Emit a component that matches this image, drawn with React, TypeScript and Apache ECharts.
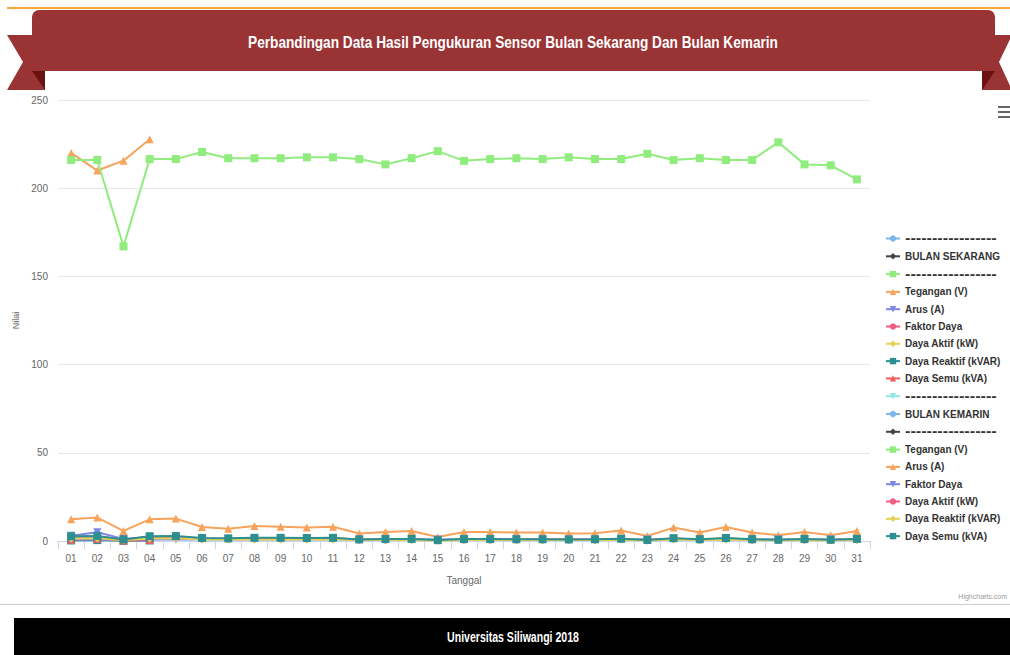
import React, { useEffect, useRef } from "react";
import * as echarts from "echarts";

const days = ["01","02","03","04","05","06","07","08","09","10","11","12","13","14","15","16","17","18","19","20","21","22","23","24","25","26","27","28","29","30","31"];

const sekarangTegangan = [220, 210, 215.6, 227.7];
const sekarangArus = [3.0, 5.0, 1.2, 2.2];
const sekarangFaktorDaya = [0.9, 0.9, 0.9, 0.9];
const sekarangDayaAktif = [0.6, 1.0, 0.2, 0.5];
const sekarangDayaReaktif = [0.3, 0.5, 0.1, 0.3];
const sekarangDayaSemu = [0.7, 1.1, 0.3, 0.5];

const kemarinTegangan = [216, 216, 167, 216.5, 216.5, 220.5, 217, 217, 217, 217.5, 217.5, 216.5, 213.5, 217, 221, 215.5, 216.5, 217, 216.5, 217.5, 216.5, 216.5, 219.5, 216, 217, 216, 216, 226, 213.5, 213, 205];
const kemarinArus = [12.3, 13.3, 5.7, 12.3, 12.7, 7.9, 7.0, 8.5, 8.1, 7.6, 8.1, 4.2, 5.1, 5.7, 2.3, 5.1, 5.1, 4.8, 4.8, 4.2, 4.4, 6.0, 2.8, 7.6, 4.8, 7.9, 4.8, 3.3, 5.1, 3.3, 5.7];
const kemarinFaktorDaya = [0.85, 0.86, 0.84, 0.85, 0.85, 0.86, 0.85, 0.85, 0.86, 0.85, 0.85, 0.84, 0.85, 0.85, 0.83, 0.85, 0.85, 0.85, 0.84, 0.85, 0.85, 0.86, 0.84, 0.86, 0.85, 0.86, 0.85, 0.84, 0.85, 0.84, 0.85];
const kemarinDayaAktif = [2.3, 2.5, 0.8, 2.3, 2.4, 1.4, 1.3, 1.5, 1.5, 1.4, 1.5, 0.8, 0.9, 1.0, 0.4, 0.9, 0.9, 0.8, 0.8, 0.8, 0.8, 1.1, 0.5, 1.4, 0.8, 1.4, 0.8, 0.6, 0.9, 0.6, 1.0];
const kemarinDayaReaktif = [1.4, 1.5, 0.5, 1.4, 1.5, 0.9, 0.8, 0.9, 0.9, 0.9, 0.9, 0.5, 0.6, 0.6, 0.3, 0.6, 0.6, 0.5, 0.5, 0.5, 0.5, 0.7, 0.3, 0.8, 0.5, 0.9, 0.5, 0.4, 0.6, 0.4, 0.6];
const kemarinDayaSemu = [2.7, 2.9, 0.9, 2.7, 2.8, 1.7, 1.5, 1.8, 1.8, 1.7, 1.8, 0.9, 1.1, 1.2, 0.5, 1.1, 1.1, 1.0, 1.0, 0.9, 1.0, 1.3, 0.6, 1.6, 1.0, 1.7, 1.0, 0.7, 1.1, 0.7, 1.2];

const yTicks = [0, 50, 100, 150, 200, 250];

const seriesLabels = [
  "-----------------", "BULAN SEKARANG", "-----------------",
  "Tegangan (V)", "Arus (A)", "Faktor Daya", "Daya Aktif (kW)", "Daya Reaktif (kVAR)", "Daya Semu (kVA)",
  "-----------------", "BULAN KEMARIN", "-----------------",
  "Tegangan (V)", "Arus (A)", "Faktor Daya", "Daya Aktif (kW)", "Daya Reaktif (kVAR)", "Daya Semu (kVA)",
];
const seriesData: number[][] = [
  [], [], [],
  sekarangTegangan, sekarangArus, sekarangFaktorDaya, sekarangDayaAktif, sekarangDayaReaktif, sekarangDayaSemu,
  [], [], [],
  kemarinTegangan, kemarinArus, kemarinFaktorDaya, kemarinDayaAktif, kemarinDayaReaktif, kemarinDayaSemu,
];

const palette = ["#7cb5ec", "#434348", "#90ed7d", "#f7a35c", "#8085e9", "#f15c80", "#e4d354", "#2b908f", "#f45b5b", "#91e8e1"];
const symbols = ["circle", "diamond", "rect", "triangle", "path://M0,0L10,0L5,10Z"];

const TITLE_TEXT = "Perbandingan Data Hasil Pengukuran Sensor Bulan Sekarang Dan Bulan Kemarin";
const FOOTER_TEXT = "Universitas Siliwangi 2018";
const BODY_FONT = "'Liberation Sans', Arial, sans-serif";

function fitScale(text: string, font: string, target: number): number {
  try {
    const c = document.createElement("canvas").getContext("2d");
    if (!c) return 0.85;
    c.font = font;
    const w = c.measureText(text).width;
    return w > 0 ? target / w : 0.85;
  } catch (e) {
    return 0.85;
  }
}

export default function App() {
  const ref = useRef<HTMLDivElement>(null);
  useEffect(() => {
    if (!ref.current) return;
    const chart = echarts.init(ref.current, undefined, { renderer: "svg" });
    const titleFont = "bold 17px 'Liberation Sans'";
    const footerFont = "bold 14px 'Liberation Sans'";
    const titleScale = fitScale(TITLE_TEXT, titleFont, 530);
    const footerScale = fitScale(FOOTER_TEXT, footerFont, 132);
    const series = seriesLabels.map((label, i) => ({
      type: "line",
      name: label + "#" + i,
      data: seriesData[i],
      color: palette[i % palette.length],
      symbol: symbols[i % symbols.length],
      symbolSize: 8,
      showSymbol: true,
      lineStyle: { width: 2 },
      emphasis: { disabled: true },
    }));
    chart.setOption({
      animation: false,
      backgroundColor: "#ffffff",
      grid: { left: 58, right: 140, top: 100, bottom: 114, containLabel: false },
      legend: {
        orient: "vertical",
        left: 885,
        top: 232,
        padding: 0,
        itemWidth: 14,
        itemHeight: 8,
        itemGap: 5.3,
        data: seriesLabels.map((l, i) => l + "#" + i),
        formatter: (n: string) => {
          const t = n.split("#")[0];
          return t.startsWith("---") ? "{d|" + t + "}" : t;
        },
        textStyle: {
          fontFamily: BODY_FONT, fontSize: 10, fontWeight: "bold", color: "#333333", lineHeight: 12,
          rich: { d: { fontFamily: "'DejaVu Sans', sans-serif", fontSize: 13, fontWeight: "bold", color: "#333333", lineHeight: 12 } },
        },
      },
      xAxis: {
        type: "category",
        data: days,
        boundaryGap: true,
        name: "Tanggal",
        nameLocation: "middle",
        nameGap: 34,
        nameTextStyle: { fontFamily: BODY_FONT, fontSize: 10, color: "#666666" },
        axisLine: { lineStyle: { color: "#ccd6eb", width: 1 } },
        axisTick: { show: true, length: 8, lineStyle: { color: "#ccd6eb" } },
        axisLabel: { fontFamily: BODY_FONT, fontSize: 10, color: "#666666", margin: 12 },
        splitLine: { show: false },
      },
      yAxis: {
        type: "value",
        min: yTicks[0],
        max: yTicks[yTicks.length - 1],
        interval: 50,
        name: "Nilai",
        nameLocation: "middle",
        nameRotate: 90,
        nameGap: 24,
        nameTextStyle: { fontFamily: BODY_FONT, fontSize: 9, color: "#666666" },
        axisLine: { show: false },
        axisTick: { show: false },
        axisLabel: { fontFamily: BODY_FONT, fontSize: 10, color: "#666666", margin: 10 },
        splitLine: { lineStyle: { color: "#e6e6e6", width: 1 } },
      },
      series,
      graphic: [
        { type: "rect", shape: { x: 7, y: 7, width: 1003, height: 2 }, style: { fill: "#f4a83a" }, z: 10 },
        { type: "polygon", shape: { points: [[7, 35], [45, 35], [45, 90], [7, 90], [23, 62]] }, style: { fill: "#9a3334" }, z: 10 },
        { type: "polygon", shape: { points: [[32, 71], [45, 71], [45, 90]] }, style: { fill: "#6a1212" }, z: 11 },
        { type: "polygon", shape: { points: [[982, 35], [1012, 35], [999, 62], [1012, 90], [982, 90]] }, style: { fill: "#9a3334" }, z: 10 },
        { type: "polygon", shape: { points: [[982, 71], [995, 71], [982, 90]] }, style: { fill: "#6a1212" }, z: 11 },
        { type: "rect", shape: { x: 32, y: 10, width: 963, height: 61, r: [7, 7, 0, 0] }, style: { fill: "#9a3334" }, z: 12 },
        {
          type: "text", x: 513, y: 42, z: 13, scaleX: titleScale,
          style: { text: TITLE_TEXT, fill: "#ffffff", font: titleFont, align: "center", verticalAlign: "middle" },
        },
        { type: "rect", shape: { x: 998, y: 106, width: 12, height: 2 }, style: { fill: "#666666" }, z: 10 },
        { type: "rect", shape: { x: 998, y: 111, width: 12, height: 2 }, style: { fill: "#666666" }, z: 10 },
        { type: "rect", shape: { x: 998, y: 116, width: 12, height: 2 }, style: { fill: "#666666" }, z: 10 },
        {
          type: "text", x: 1007, y: 596, z: 10,
          style: { text: "Highcharts.com", fill: "#999999", font: "7px " + BODY_FONT, align: "right", verticalAlign: "middle" },
        },
        { type: "rect", shape: { x: 0, y: 604, width: 1010, height: 1 }, style: { fill: "#cccccc" }, z: 10 },
        { type: "rect", shape: { x: 14, y: 618, width: 996, height: 37 }, style: { fill: "#000000" }, z: 10 },
        {
          type: "text", x: 513, y: 637, z: 11, scaleX: footerScale,
          style: { text: FOOTER_TEXT, fill: "#ffffff", font: footerFont, align: "center", verticalAlign: "middle" },
        },
      ],
    });
    return () => chart.dispose();
  }, []);
  return <div ref={ref} style={{ position: "fixed", left: 0, top: 0, width: 1010, height: 655 }} />;
}
